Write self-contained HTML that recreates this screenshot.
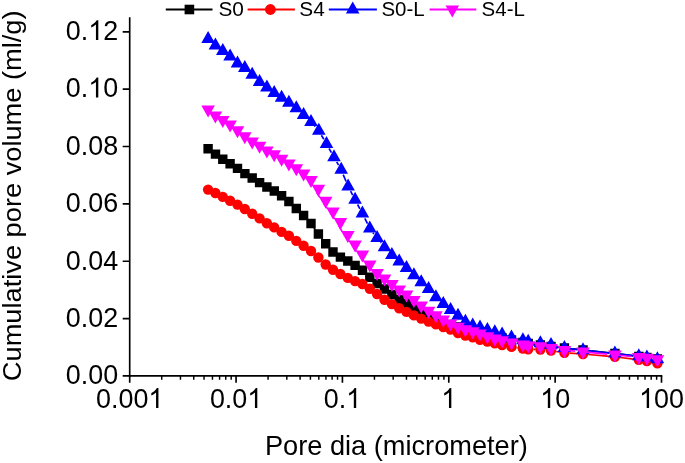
<!DOCTYPE html>
<html><head><meta charset="utf-8"><title>Cumulative pore volume</title>
<style>html,body{margin:0;padding:0;background:#fff;overflow:hidden}body{width:685px;height:463px;font-family:"Liberation Sans",sans-serif}</style>
</head><body>
<svg width="685" height="463" viewBox="0 0 685 463" style="display:block;will-change:transform">
<rect width="685" height="463" fill="#fff"/>
<g stroke="#000" stroke-width="1.65" fill="none">
<path d="M129.7 17.3V376.72499999999997"/>
<path d="M128.875 375.9H662.325"/>
<path d="M129.7 375.90h-7M129.7 318.55h-7M129.7 261.20h-7M129.7 203.85h-7M129.7 146.50h-7M129.7 89.15h-7M129.7 31.80h-7M129.70 375.9v6.8M236.06 375.9v6.8M342.42 375.9v6.8M448.78 375.9v6.8M555.14 375.9v6.8M661.50 375.9v6.8"/>
<path d="M161.72 375.9v3.8M180.45 375.9v3.8M193.74 375.9v3.8M204.04 375.9v3.8M212.46 375.9v3.8M219.58 375.9v3.8M225.75 375.9v3.8M231.19 375.9v3.8M268.08 375.9v3.8M286.81 375.9v3.8M300.10 375.9v3.8M310.40 375.9v3.8M318.82 375.9v3.8M325.94 375.9v3.8M332.11 375.9v3.8M337.55 375.9v3.8M374.44 375.9v3.8M393.17 375.9v3.8M406.46 375.9v3.8M416.76 375.9v3.8M425.18 375.9v3.8M432.30 375.9v3.8M438.47 375.9v3.8M443.91 375.9v3.8M480.80 375.9v3.8M499.53 375.9v3.8M512.82 375.9v3.8M523.12 375.9v3.8M531.54 375.9v3.8M538.66 375.9v3.8M544.83 375.9v3.8M550.27 375.9v3.8M587.16 375.9v3.8M605.89 375.9v3.8M619.18 375.9v3.8M629.48 375.9v3.8M637.90 375.9v3.8M645.02 375.9v3.8M651.19 375.9v3.8M656.63 375.9v3.8" stroke-width="1.45"/>
</g>
<g font-family="Liberation Sans, sans-serif" font-size="26.9" fill="#000" stroke="none">
<text transform="translate(65.84,384.2) scale(1,1.03)">0.00</text>
<text transform="translate(65.84,326.8) scale(1,1.03)">0.02</text>
<text transform="translate(65.84,269.5) scale(1,1.03)">0.04</text>
<text transform="translate(65.84,212.1) scale(1,1.03)">0.06</text>
<text transform="translate(65.84,154.8) scale(1,1.03)">0.08</text>
<text transform="translate(65.84,97.4) scale(1,1.03)">0.<tspan visibility="hidden">1</tspan>0</text><path transform="translate(88.28,97.4) scale(0.013135,-0.013529)" d="M763 0H583V1147Q518 1085 412.5 1023T223 930V1104Q373 1174.5 485.5 1275T645 1470H763Z"/>
<text transform="translate(65.84,40.1) scale(1,1.03)">0.<tspan visibility="hidden">1</tspan>2</text><path transform="translate(88.28,40.1) scale(0.013135,-0.013529)" d="M763 0H583V1147Q518 1085 412.5 1023T223 930V1104Q373 1174.5 485.5 1275T645 1470H763Z"/>
<text transform="translate(96.04,408.0) scale(1,1.03)">0.00<tspan visibility="hidden">1</tspan></text><path transform="translate(148.40,408.0) scale(0.013135,-0.013529)" d="M763 0H583V1147Q518 1085 412.5 1023T223 930V1104Q373 1174.5 485.5 1275T645 1470H763Z"/>
<text transform="translate(209.88,408.0) scale(1,1.03)">0.0<tspan visibility="hidden">1</tspan></text><path transform="translate(247.28,408.0) scale(0.013135,-0.013529)" d="M763 0H583V1147Q518 1085 412.5 1023T223 930V1104Q373 1174.5 485.5 1275T645 1470H763Z"/>
<text transform="translate(323.72,408.0) scale(1,1.03)">0.<tspan visibility="hidden">1</tspan></text><path transform="translate(346.16,408.0) scale(0.013135,-0.013529)" d="M763 0H583V1147Q518 1085 412.5 1023T223 930V1104Q373 1174.5 485.5 1275T645 1470H763Z"/>
<text transform="translate(441.30,408.0) scale(1,1.03)"><tspan visibility="hidden">1</tspan></text><path transform="translate(441.30,408.0) scale(0.013135,-0.013529)" d="M763 0H583V1147Q518 1085 412.5 1023T223 930V1104Q373 1174.5 485.5 1275T645 1470H763Z"/>
<text transform="translate(540.18,408.0) scale(1,1.03)"><tspan visibility="hidden">1</tspan>0</text><path transform="translate(540.18,408.0) scale(0.013135,-0.013529)" d="M763 0H583V1147Q518 1085 412.5 1023T223 930V1104Q373 1174.5 485.5 1275T645 1470H763Z"/>
<text transform="translate(639.06,408.0) scale(1,1.03)"><tspan visibility="hidden">1</tspan>00</text><path transform="translate(639.06,408.0) scale(0.013135,-0.013529)" d="M763 0H583V1147Q518 1085 412.5 1023T223 930V1104Q373 1174.5 485.5 1275T645 1470H763Z"/>
</g>
<g font-family="Liberation Sans, sans-serif" fill="#000">
<text x="396.4" y="455.2" font-size="27.2" text-anchor="middle">Pore dia (micrometer)</text>
<text transform="translate(21,195.8) rotate(-90) scale(1.028,1)" font-size="26.5" text-anchor="middle">Cumulative pore volume (ml/g)</text>
</g>
<path d="M314.0 227.8L315.3 229.7M321.5 238.2L322.5 239.6M516.7 341.1L517.7 341.4M533.5 344.1L535.1 344.4M556.3 347.1L559.1 347.4M569.7 348.6L577.7 349.4M588.3 350.6L609.6 352.9M620.2 354.2L633.5 355.8" stroke="#000" stroke-width="1.7" fill="none"/>
<path d="M203.4 144.0h9.4v9.4h-9.4zM210.8 149.4h9.4v9.4h-9.4zM218.1 154.6h9.4v9.4h-9.4zM225.4 159.0h9.4v9.4h-9.4zM232.8 163.7h9.4v9.4h-9.4zM240.2 168.9h9.4v9.4h-9.4zM247.5 173.3h9.4v9.4h-9.4zM254.9 177.9h9.4v9.4h-9.4zM262.2 182.3h9.4v9.4h-9.4zM269.6 186.3h9.4v9.4h-9.4zM276.9 191.1h9.4v9.4h-9.4zM284.2 196.8h9.4v9.4h-9.4zM291.6 203.8h9.4v9.4h-9.4zM298.9 210.8h9.4v9.4h-9.4zM306.3 218.8h9.4v9.4h-9.4zM313.7 229.3h9.4v9.4h-9.4zM321.0 239.1h9.4v9.4h-9.4zM328.3 247.3h9.4v9.4h-9.4zM335.7 252.4h9.4v9.4h-9.4zM343.1 256.3h9.4v9.4h-9.4zM350.4 260.7h9.4v9.4h-9.4zM357.8 265.6h9.4v9.4h-9.4zM365.1 272.5h9.4v9.4h-9.4zM372.4 278.8h9.4v9.4h-9.4zM379.8 284.3h9.4v9.4h-9.4zM387.2 289.8h9.4v9.4h-9.4zM394.5 294.8h9.4v9.4h-9.4zM401.8 298.8h9.4v9.4h-9.4zM409.2 303.3h9.4v9.4h-9.4zM416.6 307.3h9.4v9.4h-9.4zM423.9 310.8h9.4v9.4h-9.4zM431.2 314.3h9.4v9.4h-9.4zM438.6 317.3h9.4v9.4h-9.4zM445.9 319.8h9.4v9.4h-9.4zM453.3 322.3h9.4v9.4h-9.4zM460.7 325.3h9.4v9.4h-9.4zM468.0 327.3h9.4v9.4h-9.4zM475.3 329.0h9.4v9.4h-9.4zM482.7 330.5h9.4v9.4h-9.4zM490.1 332.0h9.4v9.4h-9.4zM497.4 333.3h9.4v9.4h-9.4zM506.8 335.3h9.4v9.4h-9.4zM518.2 337.8h9.4v9.4h-9.4zM523.5 338.8h9.4v9.4h-9.4zM535.7 340.3h9.4v9.4h-9.4zM546.3 341.8h9.4v9.4h-9.4zM559.7 343.3h9.4v9.4h-9.4zM578.3 345.3h9.4v9.4h-9.4zM610.2 348.8h9.4v9.4h-9.4zM634.1 351.8h9.4v9.4h-9.4zM642.2 352.8h9.4v9.4h-9.4zM652.7 354.3h9.4v9.4h-9.4z" fill="#000"/>
<path d="M516.7 347.7L517.7 347.8M533.5 349.4L535.1 349.4M556.2 351.5L559.2 351.9M569.7 353.1L577.7 353.7M588.3 354.5L609.6 356.3M620.2 357.5L633.5 359.1" stroke="#f00" stroke-width="1.7" fill="none"/>
<g fill="#f00"><circle cx="208.1" cy="189.6" r="5.2"/><circle cx="215.4" cy="193.0" r="5.2"/><circle cx="222.8" cy="196.9" r="5.2"/><circle cx="230.1" cy="200.7" r="5.2"/><circle cx="237.5" cy="204.6" r="5.2"/><circle cx="244.8" cy="209.0" r="5.2"/><circle cx="252.2" cy="213.7" r="5.2"/><circle cx="259.6" cy="218.4" r="5.2"/><circle cx="266.9" cy="223.3" r="5.2"/><circle cx="274.2" cy="227.4" r="5.2"/><circle cx="281.6" cy="231.9" r="5.2"/><circle cx="288.9" cy="235.7" r="5.2"/><circle cx="296.3" cy="240.9" r="5.2"/><circle cx="303.6" cy="245.7" r="5.2"/><circle cx="311.0" cy="251.0" r="5.2"/><circle cx="318.4" cy="257.5" r="5.2"/><circle cx="325.7" cy="264.5" r="5.2"/><circle cx="333.0" cy="269.8" r="5.2"/><circle cx="340.4" cy="274.0" r="5.2"/><circle cx="347.8" cy="277.9" r="5.2"/><circle cx="355.1" cy="281.1" r="5.2"/><circle cx="362.4" cy="284.0" r="5.2"/><circle cx="369.8" cy="288.8" r="5.2"/><circle cx="377.1" cy="294.0" r="5.2"/><circle cx="384.5" cy="299.8" r="5.2"/><circle cx="391.9" cy="304.1" r="5.2"/><circle cx="399.2" cy="308.2" r="5.2"/><circle cx="406.5" cy="311.9" r="5.2"/><circle cx="413.9" cy="315.4" r="5.2"/><circle cx="421.2" cy="318.6" r="5.2"/><circle cx="428.6" cy="321.6" r="5.2"/><circle cx="435.9" cy="324.4" r="5.2"/><circle cx="443.3" cy="327.1" r="5.2"/><circle cx="450.6" cy="329.5" r="5.2"/><circle cx="458.0" cy="333.0" r="5.2"/><circle cx="465.4" cy="335.6" r="5.2"/><circle cx="472.7" cy="337.4" r="5.2"/><circle cx="480.0" cy="339.8" r="5.2"/><circle cx="487.4" cy="341.6" r="5.2"/><circle cx="494.8" cy="343.4" r="5.2"/><circle cx="502.1" cy="345.1" r="5.2"/><circle cx="511.5" cy="346.9" r="5.2"/><circle cx="522.9" cy="348.6" r="5.2"/><circle cx="528.2" cy="349.2" r="5.2"/><circle cx="540.4" cy="349.6" r="5.2"/><circle cx="551.0" cy="350.6" r="5.2"/><circle cx="564.4" cy="352.8" r="5.2"/><circle cx="583.0" cy="354.0" r="5.2"/><circle cx="614.9" cy="356.8" r="5.2"/><circle cx="638.8" cy="359.8" r="5.2"/><circle cx="646.9" cy="361.0" r="5.2"/><circle cx="657.4" cy="363.3" r="5.2"/></g>
<path d="M314.5 126.0L315.2 126.7M321.4 135.3L323.8 139.3M329.1 148.5L331.4 152.7M336.7 161.9L338.6 165.2M343.2 174.7L346.1 181.5M350.6 191.1L352.7 195.1M357.6 204.5L359.9 208.8M364.8 218.3L367.5 223.7M373.0 232.7L373.9 233.9M380.5 242.2L381.2 243.1M516.6 338.7L517.8 338.9M533.5 342.4L535.1 342.6M556.2 346.1L559.2 346.8M569.7 348.6L577.7 349.6M588.3 350.7L609.6 353.0M620.2 354.1L633.5 355.7" stroke="#00f" stroke-width="1.7" fill="none"/>
<path d="M208.1 31.1l6.8 12.0h-13.6zM215.4 37.5l6.8 12.0h-13.6zM222.8 43.0l6.8 12.0h-13.6zM230.1 48.4l6.8 12.0h-13.6zM237.5 55.6l6.8 12.0h-13.6zM244.8 60.1l6.8 12.0h-13.6zM252.2 66.8l6.8 12.0h-13.6zM259.6 73.9l6.8 12.0h-13.6zM266.9 79.4l6.8 12.0h-13.6zM274.2 85.1l6.8 12.0h-13.6zM281.6 89.8l6.8 12.0h-13.6zM288.9 94.8l6.8 12.0h-13.6zM296.3 100.2l6.8 12.0h-13.6zM303.6 107.0l6.8 12.0h-13.6zM311.0 114.0l6.8 12.0h-13.6zM318.8 122.7l6.8 12.0h-13.6zM326.5 135.9l6.8 12.0h-13.6zM334.0 149.3l6.8 12.0h-13.6zM341.2 161.8l6.8 12.0h-13.6zM348.1 178.4l6.8 12.0h-13.6zM355.1 191.8l6.8 12.0h-13.6zM362.4 205.5l6.8 12.0h-13.6zM369.8 220.5l6.8 12.0h-13.6zM377.1 230.1l6.8 12.0h-13.6zM384.5 239.2l6.8 12.0h-13.6zM391.9 247.0l6.8 12.0h-13.6zM399.2 253.4l6.8 12.0h-13.6zM406.5 259.9l6.8 12.0h-13.6zM413.9 267.2l6.8 12.0h-13.6zM421.2 274.2l6.8 12.0h-13.6zM428.6 281.1l6.8 12.0h-13.6zM435.9 289.2l6.8 12.0h-13.6zM443.3 296.1l6.8 12.0h-13.6zM450.6 302.1l6.8 12.0h-13.6zM458.0 307.8l6.8 12.0h-13.6zM465.4 313.8l6.8 12.0h-13.6zM472.7 317.6l6.8 12.0h-13.6zM480.0 319.4l6.8 12.0h-13.6zM487.4 322.1l6.8 12.0h-13.6zM494.8 324.2l6.8 12.0h-13.6zM502.1 326.4l6.8 12.0h-13.6zM511.5 329.4l6.8 12.0h-13.6zM522.9 332.2l6.8 12.0h-13.6zM528.2 333.8l6.8 12.0h-13.6zM540.4 335.2l6.8 12.0h-13.6zM551.0 336.9l6.8 12.0h-13.6zM564.4 340.0l6.8 12.0h-13.6zM583.0 342.2l6.8 12.0h-13.6zM614.9 345.5l6.8 12.0h-13.6zM638.8 348.3l6.8 12.0h-13.6zM646.9 349.4l6.8 12.0h-13.6zM657.4 351.3l6.8 12.0h-13.6z" fill="#00f"/>
<path d="M207.4 112.0L208.6 113.0M215.1 117.6L215.6 117.8M222.4 122.0L223.0 122.4M229.5 127.0L230.5 127.7M236.8 132.7L238.0 133.7M244.3 138.5L245.1 139.1M251.8 143.5L252.3 143.7M259.1 148.0L259.7 148.3M273.9 156.4L274.4 156.7M281.2 160.9L281.8 161.3M288.5 165.6L289.2 166.0M295.7 170.6L296.6 171.2M302.9 176.2L304.2 177.4M309.8 183.1L312.0 185.7M316.6 192.2L319.8 197.4M324.2 204.1L327.0 208.2M331.6 214.8L334.3 218.6M338.6 225.4L342.0 231.4M346.4 238.1L348.9 241.4M353.7 247.8L356.3 251.3M361.0 257.7L363.6 261.3M368.6 267.5L370.8 270.1M376.6 275.5L377.5 276.2M383.9 281.0L384.8 281.7M391.3 286.4L392.2 287.1M398.7 291.7L399.5 292.2M405.9 296.9L406.9 297.7M413.3 302.4L414.2 303.1M420.7 307.8L421.6 308.4M428.2 312.9L428.7 313.1M435.6 317.2L436.0 317.5M502.2 341.2L503.8 341.5M511.6 343.1L515.2 343.7M528.4 345.7L532.6 346.0M540.5 346.9L543.3 347.4M551.2 348.6L556.6 349.3M564.6 350.2L575.2 351.2M583.2 351.9L607.1 354.1M615.1 354.9L631.0 356.5M647.1 358.3L649.6 358.7" stroke="#f0f" stroke-width="1.7" fill="none"/>
<path d="M208.1 117.5l6.8 -12.0h-13.6zM215.4 123.5l6.8 -12.0h-13.6zM222.8 127.9l6.8 -12.0h-13.6zM230.1 132.5l6.8 -12.0h-13.6zM237.5 138.2l6.8 -12.0h-13.6zM244.8 144.2l6.8 -12.0h-13.6zM252.2 149.4l6.8 -12.0h-13.6zM259.6 153.8l6.8 -12.0h-13.6zM266.9 158.5l6.8 -12.0h-13.6zM274.2 162.3l6.8 -12.0h-13.6zM281.6 166.8l6.8 -12.0h-13.6zM288.9 171.4l6.8 -12.0h-13.6zM296.3 176.2l6.8 -12.0h-13.6zM303.6 181.6l6.8 -12.0h-13.6zM311.0 188.0l6.8 -12.0h-13.6zM318.4 196.8l6.8 -12.0h-13.6zM325.7 208.8l6.8 -12.0h-13.6zM333.0 219.5l6.8 -12.0h-13.6zM340.4 229.9l6.8 -12.0h-13.6zM347.8 242.9l6.8 -12.0h-13.6zM355.1 252.6l6.8 -12.0h-13.6zM362.4 262.5l6.8 -12.0h-13.6zM369.8 272.5l6.8 -12.0h-13.6zM377.1 281.1l6.8 -12.0h-13.6zM384.5 286.6l6.8 -12.0h-13.6zM391.9 292.1l6.8 -12.0h-13.6zM399.2 297.4l6.8 -12.0h-13.6zM406.5 302.5l6.8 -12.0h-13.6zM413.9 308.1l6.8 -12.0h-13.6zM421.2 313.4l6.8 -12.0h-13.6zM428.6 318.8l6.8 -12.0h-13.6zM435.9 323.2l6.8 -12.0h-13.6zM443.3 327.5l6.8 -12.0h-13.6zM450.6 331.4l6.8 -12.0h-13.6zM458.0 334.8l6.8 -12.0h-13.6zM465.4 337.2l6.8 -12.0h-13.6zM472.7 339.2l6.8 -12.0h-13.6zM480.0 341.6l6.8 -12.0h-13.6zM487.4 344.2l6.8 -12.0h-13.6zM494.8 346.4l6.8 -12.0h-13.6zM502.1 348.3l6.8 -12.0h-13.6zM511.5 350.4l6.8 -12.0h-13.6zM522.9 352.4l6.8 -12.0h-13.6zM528.2 353.4l6.8 -12.0h-13.6zM540.4 354.3l6.8 -12.0h-13.6zM551.0 356.0l6.8 -12.0h-13.6zM564.4 357.9l6.8 -12.0h-13.6zM583.0 359.5l6.8 -12.0h-13.6zM614.9 362.5l6.8 -12.0h-13.6zM638.8 364.9l6.8 -12.0h-13.6zM646.9 365.8l6.8 -12.0h-13.6zM657.4 367.2l6.8 -12.0h-13.6z" fill="#f0f"/>
<g stroke-width="1.8" fill="none"><path d="M165.8 9.5H212.5" stroke="#000"/><path d="M247.6 9.5H294.9" stroke="#f00"/><path d="M328.8 9.5H376.9" stroke="#00f"/><path d="M429.6 9.5H476.3" stroke="#f0f"/></g>
<path d="M184.6 4.7h9.6v9.6h-9.6z" fill="#000"/>
<circle cx="270.4" cy="9.5" r="5.4" fill="#f00"/>
<path d="M352.7 1.5l6.8 12.0h-13.6z" fill="#00f"/>
<path d="M452.3 17.5l6.8 -12.0h-13.6z" fill="#f0f"/>
<g font-family="Liberation Sans, sans-serif" font-size="20.8" fill="#000">
<text transform="translate(218.4,16.0) scale(1,0.975)">S0</text>
<text transform="translate(299.3,16.0) scale(1,0.975)">S4</text>
<text transform="translate(381.4,16.0) scale(0.985,0.975)">S0-L</text>
<text transform="translate(481.6,16.0) scale(0.985,0.975)">S4-L</text>
</g>
</svg>
</body></html>
